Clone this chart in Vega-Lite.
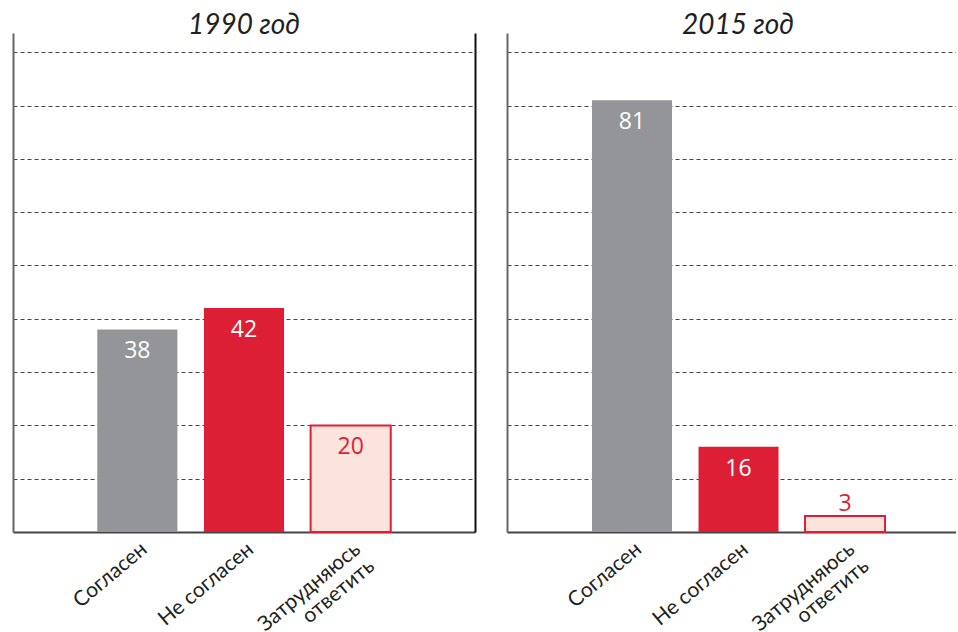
{
  "$schema": "https://vega.github.io/schema/vega-lite/v6.json",
  "background": "white",
  "padding": {"left": 13, "top": 12, "right": 0, "bottom": 0},
  "config": {"view": {"stroke": null}, "concat": {"spacing": 32}},
  "data": {"values": [
    {"year": "1990 год", "category": "Согласен", "value": 38},
    {"year": "1990 год", "category": "Не согласен", "value": 42},
    {"year": "1990 год", "category": "Затрудняюсь ответить", "value": 20},
    {"year": "2015 год", "category": "Согласен", "value": 81},
    {"year": "2015 год", "category": "Не согласен", "value": 16},
    {"year": "2015 год", "category": "Затрудняюсь ответить", "value": 3}
  ]},
  "hconcat": [
    {
      "width": 462, "height": 499,
      "transform": [{"filter": "datum.year == '1990 год'"}],
      "title": {"text": "1990 год", "font": "Lato", "fontStyle": "italic", "fontWeight": "normal", "fontSize": 28, "color": "#231f20", "anchor": "middle", "baseline": "alphabetic", "offset": -29},
      "encoding": {
        "x": {"field": "category", "type": "nominal", "sort": ["Согласен", "Не согласен", "Затрудняюсь ответить"],
          "scale": {"paddingInner": 0.249, "paddingOuter": 0.79},
          "axis": {"title": null, "ticks": false, "domainColor": "#444444", "domainWidth": 2, "labelAngle": -40, "labelAlign": "right", "labelBaseline": "top", "labelPadding": 6, "labelOffset": 0, "labelFont": "Lato", "labelFontSize": 21, "labelColor": "#231f20", "labelLineHeight": 22,
            "labelExpr": "datum.label == 'Затрудняюсь ответить' ? ['Затрудняюсь', 'ответить'] : datum.label"}}
      },
      "layer": [
        {
          "mark": {"type": "bar", "strokeWidth": 2},
          "encoding": {
            "y": {"field": "value", "type": "quantitative", "scale": {"domain": [0, 93.6], "nice": false},
              "axis": {"title": null, "labels": false, "ticks": false, "domainColor": "#666666", "domainWidth": 2, "grid": true, "values": [10, 20, 30, 40, 50, 60, 70, 80, 90], "gridDash": [4, 3], "gridColor": "#444444", "gridWidth": 1}},
            "fill": {"field": "category", "type": "nominal", "legend": null, "scale": {"domain": ["Согласен", "Не согласен", "Затрудняюсь ответить"], "range": ["#939598", "#DD1F36", "#FBE4DC"]}},
            "stroke": {"condition": {"test": "datum.category == 'Затрудняюсь ответить'", "value": "#DD1F36"}, "value": "transparent"}
          }
        },
        {
          "transform": [{"filter": "datum.value >= 10"}],
          "mark": {"type": "text", "baseline": "alphabetic", "dy": 29, "font": "Open Sans", "fontSize": 23},
          "encoding": {
            "y": {"field": "value", "type": "quantitative", "axis": {"orient": "right", "title": null, "labels": false, "ticks": false, "grid": false, "domainColor": "#111111", "domainWidth": 2}},
            "text": {"field": "value", "type": "quantitative"},
            "color": {"condition": {"test": "datum.category == 'Затрудняюсь ответить'", "value": "#DD1F36"}, "value": "white"}
          }
        },
        {
          "transform": [{"filter": "datum.value < 10"}],
          "mark": {"type": "text", "baseline": "alphabetic", "dy": -5, "font": "Open Sans", "fontSize": 23, "color": "#DD1F36"},
          "encoding": {
            "y": {"field": "value", "type": "quantitative", "axis": null},
            "text": {"field": "value", "type": "quantitative"}
          }
        }
      ],
      "resolve": {"axis": {"y": "independent"}}
    },
    {
      "width": 449, "height": 499,
      "transform": [{"filter": "datum.year == '2015 год'"}],
      "title": {"text": "2015 год", "font": "Lato", "fontStyle": "italic", "fontWeight": "normal", "fontSize": 28, "color": "#231f20", "anchor": "middle", "dx": 6.5, "baseline": "alphabetic", "offset": -29},
      "encoding": {
        "x": {"field": "category", "type": "nominal", "sort": ["Согласен", "Не согласен", "Затрудняюсь ответить"],
          "scale": {"paddingInner": 0.249, "paddingOuter": 0.732, "align": 0.545},
          "axis": {"title": null, "ticks": false, "domainColor": "#444444", "domainWidth": 2, "labelAngle": -40, "labelAlign": "right", "labelBaseline": "top", "labelPadding": 6, "labelOffset": 0, "labelFont": "Lato", "labelFontSize": 21, "labelColor": "#231f20", "labelLineHeight": 22,
            "labelExpr": "datum.label == 'Затрудняюсь ответить' ? ['Затрудняюсь', 'ответить'] : datum.label"}}
      },
      "layer": [
        {
          "mark": {"type": "bar", "strokeWidth": 2},
          "encoding": {
            "y": {"field": "value", "type": "quantitative", "scale": {"domain": [0, 93.6], "nice": false},
              "axis": {"title": null, "labels": false, "ticks": false, "domainColor": "#666666", "domainWidth": 2, "grid": true, "values": [10, 20, 30, 40, 50, 60, 70, 80, 90], "gridDash": [4, 3], "gridColor": "#444444", "gridWidth": 1}},
            "fill": {"field": "category", "type": "nominal", "legend": null, "scale": {"domain": ["Согласен", "Не согласен", "Затрудняюсь ответить"], "range": ["#939598", "#DD1F36", "#FBE4DC"]}},
            "stroke": {"condition": {"test": "datum.category == 'Затрудняюсь ответить'", "value": "#DD1F36"}, "value": "transparent"}
          }
        },
        {
          "transform": [{"filter": "datum.value >= 10"}],
          "mark": {"type": "text", "baseline": "alphabetic", "dy": 29, "font": "Open Sans", "fontSize": 23},
          "encoding": {
            "y": {"field": "value", "type": "quantitative", "axis": null},
            "text": {"field": "value", "type": "quantitative"},
            "color": {"condition": {"test": "datum.category == 'Затрудняюсь ответить'", "value": "#DD1F36"}, "value": "white"}
          }
        },
        {
          "transform": [{"filter": "datum.value < 10"}],
          "mark": {"type": "text", "baseline": "alphabetic", "dy": -5, "font": "Open Sans", "fontSize": 23, "color": "#DD1F36"},
          "encoding": {
            "y": {"field": "value", "type": "quantitative", "axis": null},
            "text": {"field": "value", "type": "quantitative"}
          }
        }
      ],
      "resolve": {"axis": {"y": "independent"}}
    }
  ]
}
